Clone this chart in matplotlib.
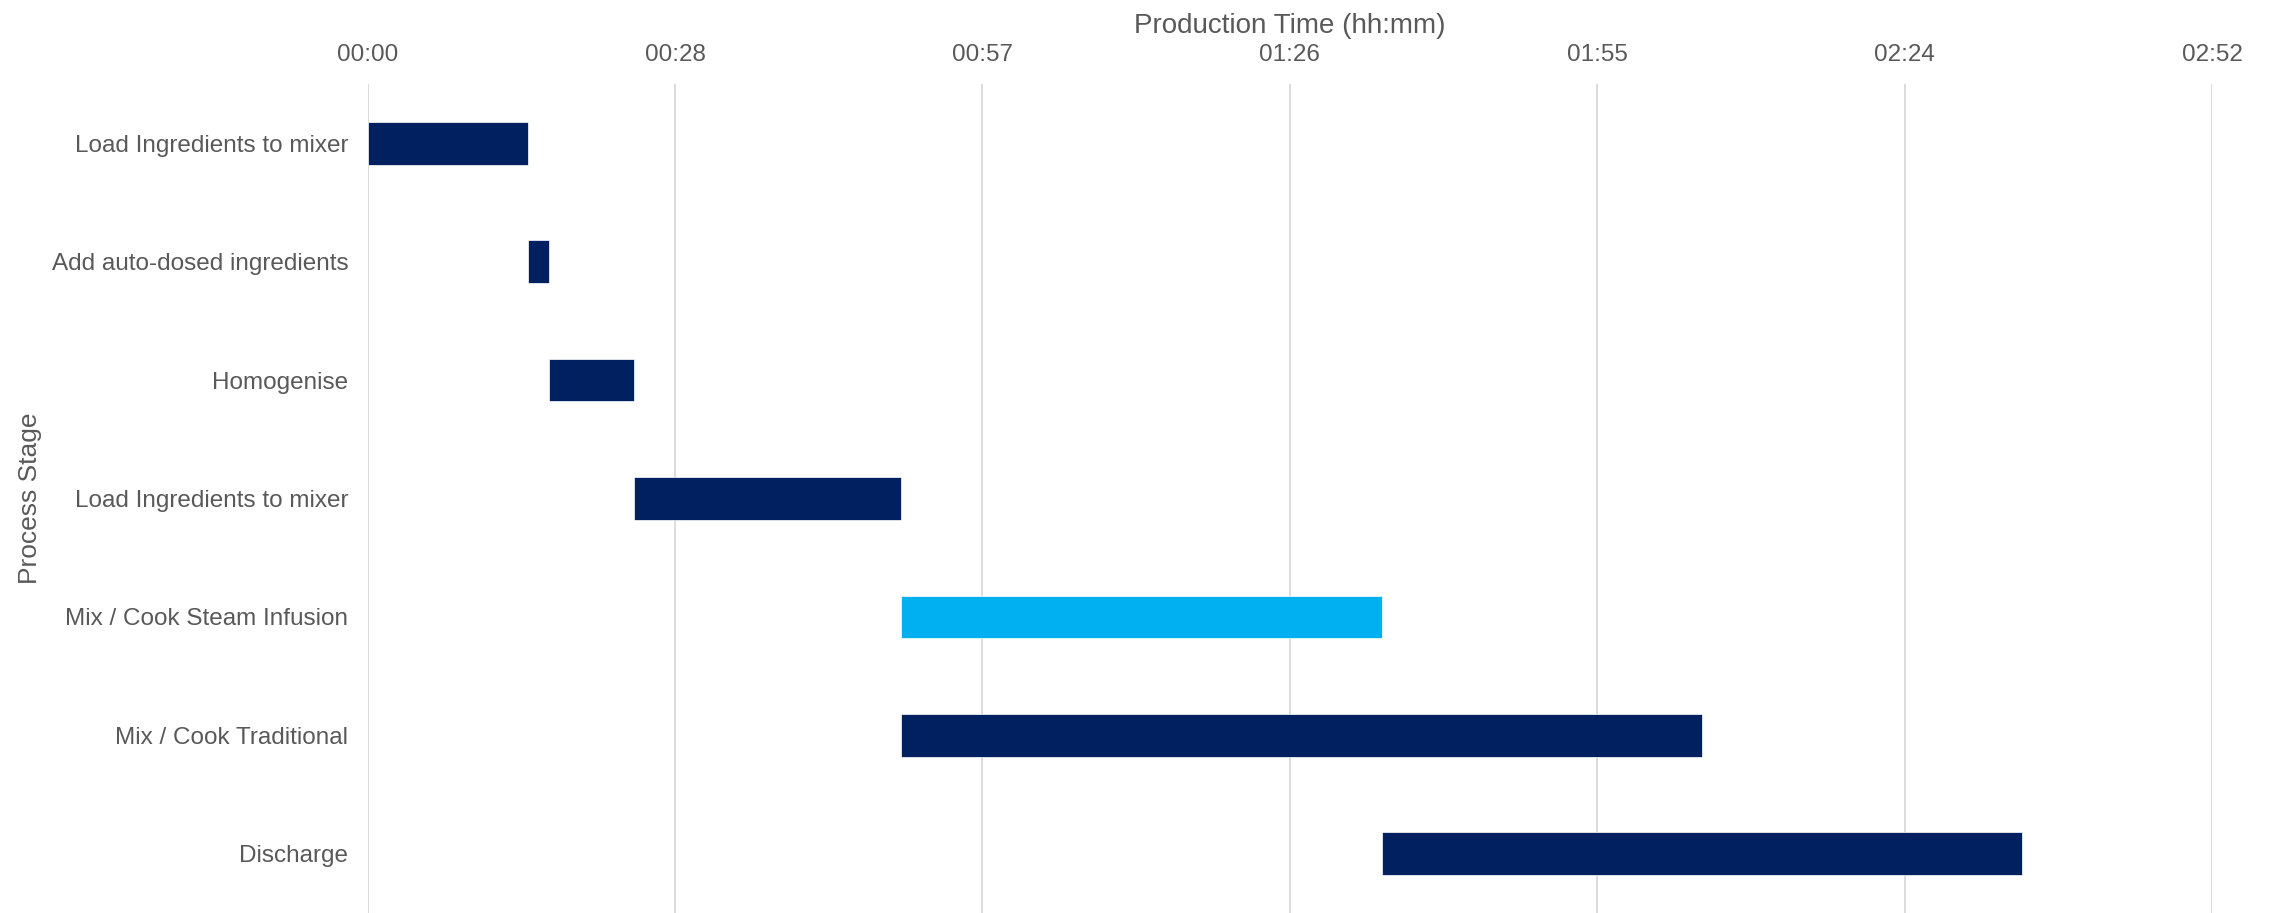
import matplotlib
matplotlib.use("Agg")
import matplotlib.pyplot as plt
import numpy as np

# process stages, top to bottom
stages = [
    "Load Ingredients to mixer",
    "Add auto-dosed ingredients",
    "Homogenise",
    "Load Ingredients to mixer",
    "Mix / Cook Steam Infusion",
    "Mix / Cook Traditional",
    "Discharge",
]
start_min = [0, 15, 17, 25, 50, 50, 95]
duration_min = [15, 2, 8, 25, 45, 75, 60]
bar_colors = ["#002060", "#002060", "#002060", "#002060", "#00B0F0", "#002060", "#002060"]

# Excel-style major unit of 0.02 day = 28.8 min
tick_step = 28.8
n_ticks = 7

text_grey = "#595959"
plt.rcParams["font.family"] = ["Liberation Sans", "DejaVu Sans"]

fig = plt.figure(figsize=(22.69, 9.13), dpi=100)
ax = fig.add_axes([0.162, 0.0, 0.813, 0.908])

y = np.arange(len(stages))
ax.barh(y, duration_min, left=start_min, height=0.36, color=bar_colors,
        edgecolor="white", linewidth=0.5, zorder=3)

ticks = np.arange(n_ticks) * tick_step
ax.set_xticks(ticks)
ax.set_xticklabels([f"{int(t // 60):02d}:{int(t % 60):02d}" for t in ticks])
ax.set_xlim(0, ticks[-1])
ax.set_ylim(len(stages) - 0.5, -0.5)
ax.set_yticks(y)
ax.set_yticklabels(stages)

ax.xaxis.tick_top()
ax.xaxis.set_label_position("top")
ax.set_xlabel("Production Time (hh:mm)", fontsize=20, color=text_grey, labelpad=8)
ax.set_ylabel("Process Stage", fontsize=19, color=text_grey, labelpad=7)

ax.tick_params(axis="both", length=0, labelsize=17.5, labelcolor=text_grey)
ax.tick_params(axis="x", pad=13)
ax.tick_params(axis="y", pad=14)
ax.grid(axis="x", color="#D9D9D9", linewidth=1.3, zorder=0)
for s in ax.spines.values():
    s.set_visible(False)

fig.savefig("out.png", dpi=100)
